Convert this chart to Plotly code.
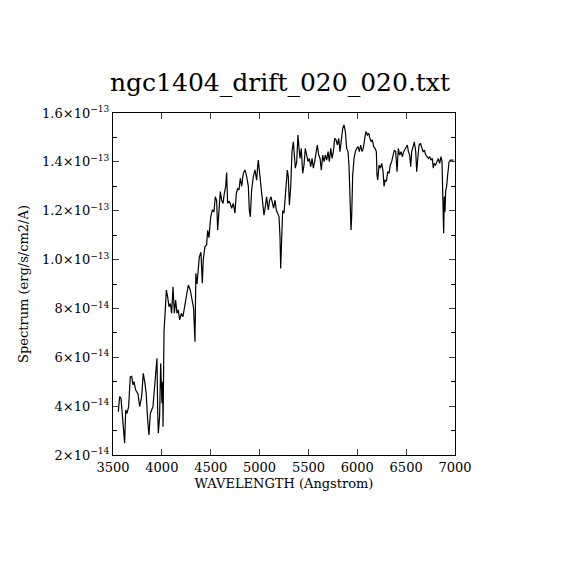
import numpy as np
import plotly.graph_objects as go

# spectrum (wavelength in Angstrom, flux in 1e-14 erg/s/cm2/A)
wavelength = [
    3554, 3568, 3582, 3592, 3613, 3619, 3630, 3643, 3660, 3677, 3691, 3705, 3715, 3732, 3756,
    3773, 3793, 3810, 3827, 3840, 3855, 3868, 3882, 3895, 3909, 3923, 3937, 3950, 3957, 3964,
    3977, 3988, 4001, 4008, 4012, 4022, 4035, 4046, 4059, 4073, 4087, 4100, 4114, 4128, 4141,
    4155, 4168, 4182, 4199, 4216, 4233, 4250, 4271, 4291, 4312, 4325, 4339, 4348, 4360, 4373,
    4383, 4400, 4414, 4424, 4441, 4458, 4469, 4482, 4500, 4517, 4533, 4547, 4561, 4571, 4585,
    4598, 4612, 4626, 4639, 4653, 4663, 4673, 4687, 4700, 4714, 4731, 4748, 4762, 4776, 4789,
    4803, 4817, 4834, 4851, 4868, 4885, 4895, 4905, 4919, 4936, 4953, 4970, 4980, 4987, 4997,
    5011, 5021, 5031, 5045, 5059, 5072, 5089, 5103, 5117, 5130, 5144, 5158, 5171, 5185, 5199,
    5209, 5216, 5226, 5236, 5250, 5260, 5270, 5284, 5294, 5305, 5319, 5332, 5346, 5356, 5366,
    5380, 5393, 5404, 5414, 5427, 5441, 5455, 5468, 5482, 5496, 5509, 5523, 5537, 5550, 5564,
    5578, 5591, 5605, 5619, 5632, 5646, 5660, 5673, 5687, 5701, 5714, 5728, 5742, 5755, 5769,
    5783, 5796, 5810, 5823, 5837, 5851, 5864, 5878, 5891, 5905, 5915, 5926, 5936, 5943, 5953,
    5967, 5980, 5994, 6008, 6021, 6035, 6049, 6062, 6076, 6089, 6103, 6117, 6127, 6141, 6154,
    6168, 6182, 6195, 6202, 6209, 6223, 6236, 6250, 6264, 6274, 6284, 6298, 6311, 6325, 6338,
    6352, 6366, 6379, 6393, 6407, 6420, 6434, 6448, 6461, 6475, 6489, 6502, 6512, 6523, 6536,
    6547, 6557, 6571, 6584, 6598, 6608, 6619, 6632, 6646, 6660, 6673, 6687, 6700, 6714, 6728,
    6741, 6755, 6768, 6778, 6788, 6802, 6816, 6829, 6843, 6857, 6867, 6877, 6884, 6891, 6898,
    6904, 6914, 6925, 6939, 6952, 6985,
]
flux = [
    3.77, 4.39, 4.32, 3.72, 2.90, 2.48, 3.84, 3.70, 3.98, 5.20, 5.22, 4.87, 5.00, 4.66, 4.50,
    3.98, 4.39, 5.34, 4.93, 4.50, 3.43, 2.82, 3.70, 3.84, 3.98, 4.66, 5.48, 5.96, 3.84, 2.89,
    3.57, 5.75, 4.12, 5.00, 3.16, 7.05, 7.94, 8.75, 8.48, 8.07, 8.20, 7.80, 8.89, 7.80, 8.34,
    7.80, 7.94, 7.53, 7.80, 7.66, 8.07, 8.48, 8.96, 8.75, 8.20, 8.00, 6.64, 9.44, 9.00, 9.85,
    10.10, 10.30, 9.03, 10.00, 10.53, 10.60, 11.20, 10.90, 11.75, 12.03, 11.95, 12.57, 12.40, 11.21, 11.89,
    12.78, 12.43, 12.30, 12.70, 12.99, 13.56, 12.30, 12.40, 12.30, 12.10, 12.30, 11.90, 12.71, 12.90, 12.85,
    13.33, 13.00, 13.53, 13.67, 13.40, 13.00, 12.03, 11.75, 12.85, 13.40, 13.67, 13.25, 13.80, 14.07, 13.67,
    13.13, 12.71, 12.30, 11.82, 12.17, 12.57, 12.03, 12.43, 12.57, 12.30, 12.10, 12.43, 12.03, 11.90, 11.75,
    10.93, 9.64, 10.80, 12.00, 11.90, 12.50, 13.05, 13.66, 13.40, 12.23, 13.00, 14.42, 14.82, 14.28, 13.74,
    14.00, 15.10, 14.55, 14.14, 14.55, 13.53, 13.87, 14.55, 14.28, 14.01, 14.14, 13.80, 14.14, 13.74, 14.01,
    14.42, 14.69, 14.28, 14.14, 13.66, 14.28, 14.01, 14.28, 14.07, 14.42, 14.01, 14.55, 14.14, 14.42, 14.96,
    14.90, 14.69, 14.96, 14.42, 14.96, 15.37, 15.51, 15.24, 14.55, 14.42, 13.87, 12.50, 11.21, 11.82, 13.46,
    14.14, 14.42, 14.55, 14.62, 14.42, 14.69, 14.42, 14.55, 14.96, 15.24, 15.10, 15.17, 15.00, 14.83, 14.90,
    14.62, 14.55, 14.42, 13.46, 13.26, 13.87, 13.74, 13.94, 13.60, 12.99, 13.26, 13.20, 13.60, 13.53, 13.87,
    14.01, 14.28, 14.48, 14.42, 13.60, 14.55, 14.28, 14.42, 14.21, 14.42, 14.55, 14.62, 14.69, 14.42, 14.28,
    13.80, 14.42, 14.62, 14.82, 14.42, 13.60, 14.14, 14.69, 14.76, 14.55, 14.42, 14.48, 14.28, 14.21, 14.14,
    14.21, 14.07, 14.14, 13.74, 13.94, 13.87, 14.01, 14.14, 13.94, 14.21, 14.01, 12.78, 11.08, 12.58, 11.96,
    12.78, 12.99, 13.46, 14.00, 14.07, 14.07,
]

x_ticks = [3500, 4000, 4500, 5000, 5500, 6000, 6500, 7000]
y_tick_mant = [2, 4, 6, 8, 1.0, 1.2, 1.4, 1.6]
y_tick_exp = [-14, -14, -14, -14, -13, -13, -13, -13]

y = np.array(flux) * 1e-14
y_ticks = [m * 10.0 ** e for m, e in zip(y_tick_mant, y_tick_exp)]
y_text = []
for m, e in zip(y_tick_mant, y_tick_exp):
    ms = str(m) if e == -14 else "%.1f" % m
    y_text.append(ms + "\u00d710<sup>\u2212%d</sup>" % (-e))

font = "DejaVu Serif"

fig = go.Figure(go.Scatter(x=wavelength, y=y, mode="lines",
                           line=dict(color="black", width=1.2)))

# the page body adds 8px, so margins are 8px less on the top/left
fig.update_layout(
    width=570, height=570,
    margin=dict(l=105, r=123, t=105, b=123),
    paper_bgcolor="white", plot_bgcolor="white",
    showlegend=False,
    font=dict(family=font, color="black", size=13),
    title=dict(text="ngc1404_drift_020_020.txt", x=272 / 570, xanchor="center",
               y=1 - 74 / 570, yanchor="middle",
               font=dict(family=font, size=25, color="black")),
)
fig.update_xaxes(
    range=[3500, 7000], tickvals=x_ticks, ticks="inside", ticklen=6,
    showline=True, linecolor="black", linewidth=1, mirror="ticks",
    showgrid=False, zeroline=False, tickfont=dict(size=13),
    title=dict(text="WAVELENGTH (Angstrom)", standoff=5, font=dict(size=13)),
)
fig.update_yaxes(
    range=[2e-14, 1.6e-13], tickvals=y_ticks, ticktext=y_text,
    ticks="inside", ticklen=6,
    minor=dict(dtick=1e-14, tick0=0, ticks="inside", ticklen=4, tickcolor="black"),
    showline=True, linecolor="black", linewidth=1, mirror="ticks",
    showgrid=False, zeroline=False, tickfont=dict(size=13),
    title=dict(text="Spectrum (erg/s/cm2/A)", standoff=10, font=dict(size=13)),
)

fig.write_html("out.html")
